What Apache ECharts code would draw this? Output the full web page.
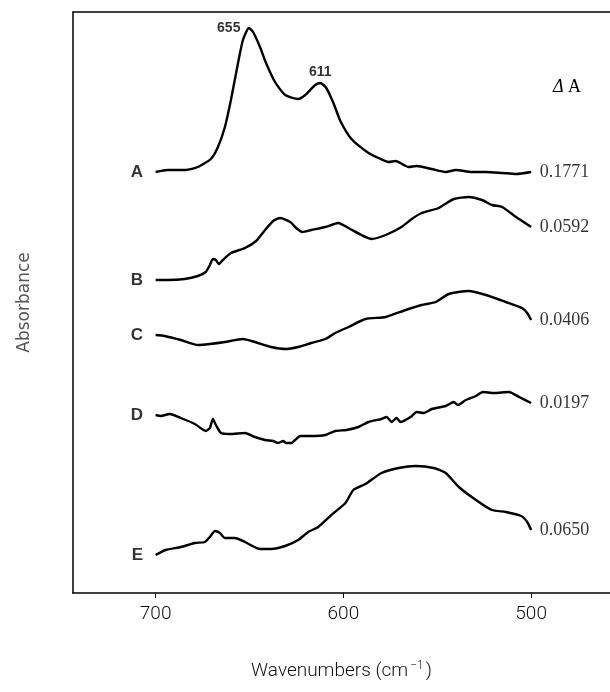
<!DOCTYPE html>
<html>
<head>
<meta charset="utf-8">
<script src="https://cdn.jsdelivr.net/npm/echarts@6/dist/echarts.min.js"></script>
<style>html,body{margin:0;padding:0;background:#fff}#c{width:610px;height:692px}</style>
</head>
<body>
<div id="c"></div>
<script>
// Wavenumber ticks
const tickValues = [500, 600, 700];
// Spectrum names and ΔA scale factors
const spectrumNames = ['A', 'B', 'C', 'D', 'E'];
const deltaA = ['0.1771', '0.0592', '0.0406', '0.0197', '0.0650'];
// Peak annotations on spectrum A: [wavenumber at drawn peak, label]
const peakLabels = [[650.3, '655'], [612.3, '611']];

// Spectra (wavenumber, offset absorbance in arbitrary units)
const specA = [[700,423],[693.6,425],[684,425],[677.5,428],[670.6,436],[666.8,448],[663.1,468],[659.9,495],[656.1,532],[653.5,555],[650.3,567],[648.1,563],[644.4,548],[641.2,532],[636.4,513],[631,500],[624.1,496],[620.3,500],[615,510],[612.3,512],[609.1,507],[605.3,492],[601.6,474],[595.7,456],[586.6,442],[581.3,437],[575.9,433],[572.2,434],[565.2,428],[561,429],[553,426],[545.5,423],[540.1,425],[531.6,423],[524.1,423],[515.5,422],[508,421],[500,423]];
const specB = [[700,315],[693.6,315],[684.5,316],[677.5,319],[673.3,323],[671.1,330],[669.5,336],[667.9,335],[666.3,331],[664.2,335],[659.9,342],[652.4,347],[646.5,354],[641.7,365],[637.4,374],[633.7,377],[628.3,373],[625.1,367],[621.9,363],[617.1,365],[609.6,368],[602.7,372],[597.3,367],[590.4,360],[585,356],[577.5,360],[569,368],[563.6,376],[558.3,382],[549.2,387],[541.2,396],[533.2,398],[526.2,395],[520.9,390],[515.5,388],[508,378],[500,368]];
const specC = [[700,260],[695.2,259],[686.6,255],[677.5,250],[671.1,251],[663.1,253],[653.5,256],[647.1,253],[638.5,248],[630.5,246],[624.1,248],[617.1,252],[609.6,256],[604.3,262],[597.3,268],[588.2,276],[577.5,278],[566.8,285],[558.3,290],[550.8,293],[543.9,301],[533.2,304],[524.1,300],[513.4,293],[504.8,287],[502.1,282],[500,275]];
const specD = [[700,180],[697.3,179],[692.5,181],[686.6,177],[679.1,171],[673.3,164],[671.1,167],[669.5,176],[667.9,170],[665.2,162],[660.4,161],[652.4,162],[647.1,158],[641.7,155],[637.4,154],[634.8,152],[632.1,154],[630.5,152],[627.8,152],[625.7,155],[623,159],[617.1,159],[609.6,160],[604.3,164],[598.4,165],[592,168],[586.6,173],[579.7,176],[577,178],[574.3,173],[571.7,177],[569.5,173],[564.2,178],[561,183],[557.2,182],[552.9,186],[545.5,189],[541.2,193],[539,190],[534.8,195],[529.4,199],[525.7,203],[519.8,202],[511.8,203],[506.4,198],[500,192]];
const specE = [[700,40],[694.7,45],[686.6,48],[679.1,52],[673.8,53],[671.1,58],[668.4,64],[665.8,62],[663.1,57],[657.8,57],[652.4,53],[644.4,46],[638.5,46],[631,49],[624.1,55],[618.7,63],[613.4,68],[606.4,80],[598.9,92],[594.7,105],[588.2,111],[579.7,122],[570.6,127],[561.5,129],[551.9,127],[545.5,122],[538.5,108],[529.4,95],[520.9,85],[513.4,83],[505.3,79],[502.1,73],[500,65]];

const spectra = [specA, specB, specC, specD, specE];

const chart = echarts.init(document.getElementById('c'), null, {renderer: 'canvas'});

const sansBold = {fontFamily: 'Liberation Sans, Arial, sans-serif', fontWeight: 'bold', color: '#000'};
const serif = {fontFamily: 'Liberation Serif, Times New Roman, serif', fontSize: 18, color: '#000'};

// Curves
const series = spectra.map((spec, i) => ({
  type: 'line',
  name: spectrumNames[i],
  data: spec,
  smooth: 0.2,
  symbol: 'none',
  lineStyle: {color: '#000', width: 2.4},
  z: 2,
  animation: false
}));

// Label carriers: invisible scatter points placed on curve ends / peaks
const startPts = spectra.map((s, i) => ({value: s[0], label: Object.assign({show: true, position: 'left', distance: 12, formatter: spectrumNames[i], fontSize: 17}, sansBold)}));
const endPts = spectra.map((s, i) => ({value: s[s.length - 1], label: Object.assign({show: true, position: 'right', distance: 8, offset: [0, -2], formatter: deltaA[i]}, serif)}));
const peakPts = peakLabels.map(pk => {
  const p = specA.find(q => q[0] === pk[0]);
  const left = pk[1] === '655';
  return {value: p, label: Object.assign({show: true, formatter: pk[1], position: left ? 'left' : 'top', distance: left ? 8 : 3, offset: left ? [0, 5] : [-4, 0], fontSize: 14}, sansBold)};
});

series.push({
  type: 'scatter',
  data: startPts.concat(endPts, peakPts),
  symbolSize: 1,
  itemStyle: {color: 'rgba(0,0,0,0)'},
  silent: true,
  z: 3,
  labelLayout: {hideOverlap: false},
  animation: false
});

chart.setOption({
  animation: false,
  grid: {left: 73, right: 0, top: 12, bottom: 99},
  xAxis: [{
    type: 'value', min: 458, max: 744, inverse: true,
    axisLine: {show: true, lineStyle: {color: '#000', width: 1.5}},
    axisTick: {show: true, customValues: tickValues, inside: false, length: 5, lineStyle: {color: '#000', width: 1}},
    axisLabel: {show: true, customValues: tickValues, margin: 12,
      fontFamily: 'Roboto, sans-serif', fontWeight: 300, fontSize: 19, color: '#111'},
    splitLine: {show: false},
    name: '{t|Wavenumbers (cm}{s|−1}{t|)}',
    nameLocation: 'middle', nameGap: 67,
    nameTextStyle: {
      rich: {
        t: {fontFamily: 'Roboto, sans-serif', fontWeight: 300, fontSize: 19, color: '#111'},
        s: {fontFamily: 'Roboto, sans-serif', fontWeight: 300, fontSize: 12, color: '#111', verticalAlign: 'top', padding: [0, 2, 10, 2]}
      }
    }
  }, {
    type: 'value', min: 458, max: 744, inverse: true, position: 'top',
    axisLine: {show: true, lineStyle: {color: '#000', width: 1.5}},
    axisTick: {show: false}, axisLabel: {show: false}, splitLine: {show: false}
  }],
  yAxis: {
    type: 'value', min: 2, max: 583,
    axisLine: {show: true, lineStyle: {color: '#000', width: 1.5}},
    axisTick: {show: false}, axisLabel: {show: false}, splitLine: {show: false},
    name: 'Absorbance', nameLocation: 'middle', nameGap: 40,
    nameTextStyle: {fontFamily: 'DejaVu Sans, sans-serif', fontSize: 17, color: '#555'}
  },
  graphic: [{
    type: 'text', left: 553, top: 78,
    style: {
      text: '{i|Δ}{a| A}',
      rich: {
        i: {fontFamily: 'Liberation Serif, serif', fontStyle: 'italic', fontSize: 18, fill: '#000'},
        a: {fontFamily: 'Liberation Serif, serif', fontSize: 18, fill: '#000'}
      }
    }
  }],
  series: series
});
</script>
</body>
</html>
